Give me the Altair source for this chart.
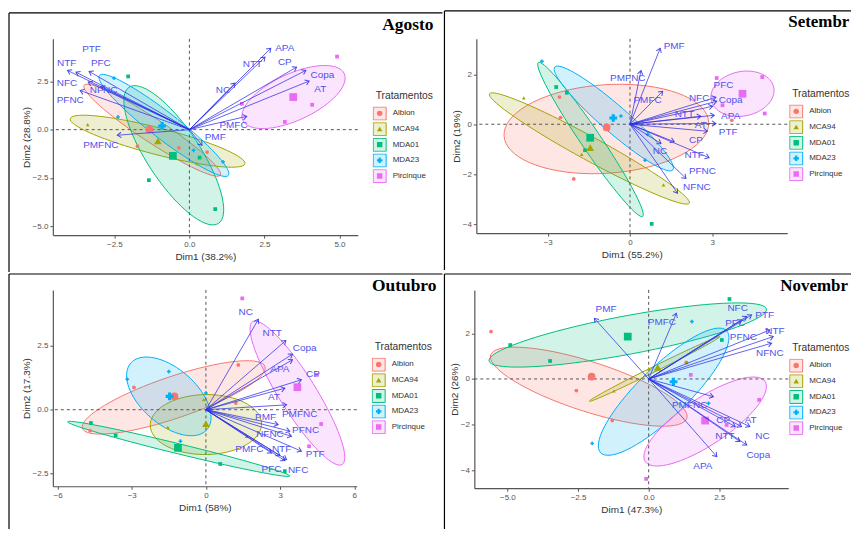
import math
import pandas as pd
import altair as alt

FONT = "Liberation Sans"
ARROW = "#2f2fe6"
LABEL = "#5151ee"

TREAT = ["Albion", "MCA94", "MDA01", "MDA23", "Pircinque"]
COLORS = ["#F8766D", "#A3A500", "#00BF7D", "#00B0F6", "#E76BF3"]
FILLS = ["rgba(248,118,109,0.18)", "rgba(163,165,0,0.18)", "rgba(0,191,125,0.18)",
         "rgba(0,176,246,0.18)", "rgba(231,107,243,0.18)"]
SHAPES = ["circle", "triangle-up", "square", "cross", "square"]

# ---------------- Agosto
AGO_VARS = ["NTF", "PTF", "PFC", "NFC", "NFNC", "PFNC", "PMFNC", "PMF", "PMFC", "NC", "NTT", "APA", "CP", "Copa", "AT"]
AGO_VX = [-4.06, -3.78, -3.34, -3.37, -2.95, -3.64, -2.40, 0.42, 1.91, 1.52, 2.52, 2.71, 3.57, 3.88, 3.99]
AGO_VY = [3.07, 2.98, 3.02, 2.47, 2.24, 2.03, -0.29, -0.81, 0.69, 2.41, 3.76, 4.22, 3.24, 3.07, 2.52]
AGO_LX = [-4.09, -3.26, -2.95, -4.08, -2.86, -3.97, -2.95, 0.86, 1.47, 1.12, 2.10, 3.18, 3.18, 4.43, 4.36]
AGO_LY = [3.45, 4.19, 3.45, 2.41, 2.03, 1.55, -0.78, -0.38, 0.22, 2.03, 3.41, 4.24, 3.50, 2.84, 2.09]
AGO_PT_TRT = ["Albion"] * 3 + ["MCA94"] * 2 + ["MDA01"] * 4 + ["MDA23"] * 4 + ["Pircinque"] * 4
AGO_PT_X = [-1.73, -0.35, 0.59, -3.39, 0.25, -2.04, -1.35, 0.34, 0.86, -2.51, -2.38, 0.14, 1.12, 4.92, 4.09, 3.18, 1.75]
AGO_PT_Y = [-0.86, -0.95, -1.16, 0.26, -1.76, 2.76, -2.62, -1.45, -4.12, 2.67, 0.66, -1.07, -1.67, 3.79, 1.29, 0.40, 1.34]
AGO_CEN_X = [-1.33, -1.05, -0.55, -0.91, 3.46]
AGO_CEN_Y = [0.00, -0.59, -1.36, 0.19, 1.69]
AGO_ELL_CX = [-1.24, -1.06, -0.52, -0.85, 3.47]
AGO_ELL_CY = [-0.03, -0.60, -1.33, 0.22, 1.69]
AGO_ELL_UX = [2.27, 2.91, 1.49, 2.15, 1.69]
AGO_ELL_UY = [-2.33, -1.17, -3.53, -2.59, 1.21]
AGO_ELL_VX = [-0.21, -0.11, -0.74, -0.27, 0.32]
AGO_ELL_VY = [-0.52, -0.67, -0.76, -0.55, -1.10]

# ---------------- Setembro
SET_VARS = ["PMF", "PMFNC", "PMFC", "NFC", "PFC", "Copa", "APA", "NTT", "AT", "PTF", "CP", "NC", "NTF", "PFNC", "NFNC"]
SET_VX = [1.10, 0.40, 1.19, 3.13, 3.16, 3.01, 3.07, 2.58, 3.13, 2.82, 1.61, 1.13, 2.88, 2.04, 1.73]
SET_VY = [3.04, 2.15, 1.32, 1.08, 0.92, 0.72, 0.36, 0.32, 0.03, -0.28, -0.70, -0.77, -1.34, -2.17, -2.76]
SET_LX = [1.61, -0.08, 0.64, 2.52, 3.41, 3.67, 3.67, 1.98, 2.58, 3.58, 2.40, 1.09, 2.34, 2.64, 2.44]
SET_LY = [3.15, 1.85, 0.96, 1.05, 1.58, 0.96, 0.33, 0.39, -0.04, -0.31, -0.64, -1.08, -1.24, -1.87, -2.52]
SET_PT_TRT = ["Albion"] * 4 + ["MCA94"] * 3 + ["MDA01"] * 4 + ["MDA23"] * 4 + ["Pircinque"] * 4
SET_PT_X = [-2.57, -2.53, -2.05, 3.71, -3.87, -1.76, 1.22, -2.69, -2.30, -1.64, 0.79, -3.21, -0.33, 0.55, 0.64, 3.16, 4.82, 4.91, 3.37]
SET_PT_Y = [1.09, 0.27, -2.19, 0.16, 1.06, -1.21, -2.43, 1.49, 1.26, -1.04, -3.99, 2.52, 0.33, -1.44, -0.41, 1.85, 1.89, 0.43, 0.76]
SET_CEN_X = [-0.85, -1.45, -1.45, -0.61, 4.10]
SET_CEN_Y = [-0.13, -0.94, -0.54, 0.25, 1.22]
SET_ELL_CX = [-0.86, -1.48, -1.44, -0.59, 4.10]
SET_ELL_CY = [-0.19, -0.97, -0.61, 0.23, 1.22]
SET_ELL_UX = [3.73, 3.64, 1.90, 2.15, 1.15]
SET_ELL_UY = [0.27, -2.19, -3.08, -2.06, 0.13]
SET_ELL_VX = [0.08, -0.21, -0.30, -0.32, 0.00]
SET_ELL_VY = [-1.77, -0.41, -0.23, -0.40, -0.90]

# ---------------- Outubro
OUT_VARS = ["NC", "NTT", "Copa", "APA", "CP", "AT", "PMFNC", "PMF", "NFNC", "PFNC", "PTF", "NTF", "PMFC", "NFC", "PFC"]
OUT_VX = [2.12, 3.23, 3.50, 3.50, 3.86, 3.19, 3.26, 2.92, 3.39, 3.46, 3.86, 3.26, 2.99, 3.19, 2.65]
OUT_VY = [3.53, 2.70, 2.17, 1.95, 1.17, 0.84, 0.19, -0.58, -0.84, -1.04, -1.62, -1.95, -1.79, -1.99, -1.69]
OUT_LX = [1.61, 2.68, 3.99, 2.99, 4.33, 2.75, 3.79, 2.41, 2.59, 4.03, 4.42, 3.06, 1.76, 3.73, 2.65]
OUT_LY = [3.81, 2.99, 2.43, 1.60, 1.39, 0.48, -0.17, -0.29, -0.95, -0.78, -1.73, -1.53, -1.53, -2.34, -2.30]
OUT_PT_TRT = ["Albion"] * 4 + ["MCA94"] * 3 + ["MDA01"] * 4 + ["MDA23"] * 4 + ["Pircinque"] * 4
OUT_PT_X = [-2.91, 1.31, -4.68, 1.21, -0.09, -1.54, 1.65, -4.65, -3.65, 0.58, 3.19, -3.18, -1.50, -1.03, 0.00, 1.47, 4.49, 4.66, 4.17]
OUT_PT_Y = [0.87, 1.75, -0.82, 0.26, 0.39, -0.69, -1.04, -0.52, -1.00, -2.12, -2.40, 1.19, 1.49, -1.23, 0.65, 4.35, 1.36, -0.56, -1.43]
OUT_CEN_X = [-1.27, 0.00, -1.13, -1.47, 3.70]
OUT_CEN_Y = [0.52, -0.55, -1.49, 0.52, 0.88]
OUT_ELL_CX = [-1.30, 0.00, -1.10, -1.50, 3.70]
OUT_ELL_CY = [0.48, -0.58, -1.53, 0.52, 0.65]
OUT_ELL_UX = [3.69, 2.25, 4.49, 1.54, 1.81]
OUT_ELL_UY = [1.21, 0.06, -1.06, -1.30, -2.79]
OUT_ELL_VX = [0.27, 0.07, -0.05, -0.74, -0.63]
OUT_ELL_VY = [-0.77, -1.17, -0.19, -0.82, -0.38]

# ---------------- Novembro
NOV_VARS = ["PMF", "PMFC", "NFC", "PTF", "PFC", "NTF", "PFNC", "NFNC", "PMFNC", "CP", "AT", "NTT", "NC", "Copa", "APA"]
NOV_VX = [-1.92, 0.98, 3.47, 3.64, 3.29, 4.29, 4.41, 4.35, 2.29, 3.06, 3.58, 3.23, 3.29, 3.47, 2.41]
NOV_VY = [2.66, 2.88, 2.74, 2.81, 2.59, 2.15, 1.86, 1.57, -0.78, -2.09, -2.09, -2.75, -2.09, -2.90, -3.41]
NOV_LX = [-1.51, 0.47, 3.15, 4.11, 3.06, 4.47, 3.35, 4.29, 1.45, 2.64, 3.61, 2.70, 4.03, 3.88, 1.92]
NOV_LY = [3.07, 2.52, 3.13, 2.81, 2.45, 2.11, 1.83, 1.13, -1.14, -1.80, -1.80, -2.49, -2.49, -3.34, -3.81]
NOV_PT_TRT = ["Albion"] * 4 + ["MCA94"] * 3 + ["MDA01"] * 4 + ["MDA23"] * 3 + ["Pircinque"] * 4
NOV_PT_X = [-5.58, -2.56, -1.29, 1.33, -1.23, 0.00, 1.35, -4.90, -3.49, 2.86, 2.59, 1.53, -2.00, 2.12, 1.49, 3.91, -0.09, 2.76]
NOV_PT_Y = [2.08, -0.51, -1.83, 0.73, -0.53, 0.44, 0.72, 1.49, 0.79, 3.51, 1.71, 2.52, -2.83, -1.07, 0.18, -0.92, -4.39, -2.02]
NOV_CEN_X = [-2.02, 0.32, -0.74, 0.88, 2.00]
NOV_CEN_Y = [0.10, 0.51, 1.86, -0.12, -1.83]
NOV_ELL_CX = [-2.12, 0.21, -0.74, 0.53, 2.00]
NOV_ELL_CY = [-0.34, 0.44, 1.93, -0.56, -1.87]
NOV_ELL_UX = [3.47, 2.31, 4.91, 2.23, 2.12]
NOV_ELL_UY = [-1.39, 1.42, 1.14, 2.68, 1.76]
NOV_ELL_VX = [-0.27, 0.05, 0.13, 0.61, 0.46]
NOV_ELL_VY = [-1.04, -0.10, -0.83, -0.79, -0.85]

PANELS = [
    dict(name="Agosto", W=306, H=197, xdom=[-4.55, 5.61], ydom=[-5.47, 4.71],
         xticks=[-2.5, 0, 2.5, 5], yticks=[-5, -2.5, 0, 2.5], xfmt=".1f", yfmt=".1f",
         xtitle="Dim1 (38.2%)", ytitle="Dim2 (28.8%)",
         vars=AGO_VARS, vx=AGO_VX, vy=AGO_VY, lx=AGO_LX, ly=AGO_LY,
         ptt=AGO_PT_TRT, ptx=AGO_PT_X, pty=AGO_PT_Y, cx=AGO_CEN_X, cy=AGO_CEN_Y,
         ell=(AGO_ELL_CX, AGO_ELL_CY, AGO_ELL_UX, AGO_ELL_UY, AGO_ELL_VX, AGO_ELL_VY),
         frame=(-44, -26, 391, 234), tpos=(382, -9), talign="right", tsize=17.5, limit=0, leg=(321, 75)),
    dict(name="Setembro", W=312, H=195, xdom=[-5.6, 5.73], ydom=[-4.36, 3.42],
         xticks=[-3, 0, 3], yticks=[-4, -2, 0, 2], xfmt="d", yfmt="d",
         xtitle="Dim1 (55.2%)", ytitle="Dim2 (19%)",
         vars=SET_VARS, vx=SET_VX, vy=SET_VY, lx=SET_LX, ly=SET_LY,
         ptt=SET_PT_TRT, ptx=SET_PT_X, pty=SET_PT_Y, cx=SET_CEN_X, cy=SET_CEN_Y,
         ell=(SET_ELL_CX, SET_ELL_CY, SET_ELL_UX, SET_ELL_UY, SET_ELL_VX, SET_ELL_VY),
         frame=(-32, -28, 376, 232), tpos=(313, -12), talign="left", tsize=17, limit=62.5, leg=(314, 73)),
    dict(name="Outubro", W=305, H=197, xdom=[-6.19, 6.10], ydom=[-2.99, 4.68],
         xticks=[-6, -3, 0, 3, 6], yticks=[-2.5, 0, 2.5], xfmt="d", yfmt=".1f",
         xtitle="Dim1 (58%)", ytitle="Dim2 (17.3%)",
         vars=OUT_VARS, vx=OUT_VX, vy=OUT_VY, lx=OUT_LX, ly=OUT_LY,
         ptt=OUT_PT_TRT, ptx=OUT_PT_X, pty=OUT_PT_Y, cx=OUT_CEN_X, cy=OUT_CEN_Y,
         ell=(OUT_ELL_CX, OUT_ELL_CY, OUT_ELL_UX, OUT_ELL_UY, OUT_ELL_VX, OUT_ELL_VY),
         frame=(-44, -16, 391, 240), tpos=(385, 1), talign="right", tsize=17.5, limit=0, leg=(320, 75)),
    dict(name="Novembro", W=315, H=199, xdom=[-6.17, 4.94], ydom=[-4.80, 3.91],
         xticks=[-5, -2.5, 0, 2.5], yticks=[-4, -2, 0, 2], xfmt=".1f", yfmt="d",
         xtitle="Dim1 (47.3%)", ytitle="Dim2 (26%)",
         vars=NOV_VARS, vx=NOV_VX, vy=NOV_VY, lx=NOV_LX, ly=NOV_LY,
         ptt=NOV_PT_TRT, ptx=NOV_PT_X, pty=NOV_PT_Y, cx=NOV_CEN_X, cy=NOV_CEN_Y,
         ell=(NOV_ELL_CX, NOV_ELL_CY, NOV_ELL_UX, NOV_ELL_UY, NOV_ELL_VX, NOV_ELL_VY),
         frame=(-30, -16, 378, 240), tpos=(307, 1), talign="left", tsize=17, limit=69, leg=(316, 76)),
]


def ellipse_df(cx, cy, ux, uy, vx, vy, n=72):
    rows = []
    for k, trt in enumerate(TREAT):
        for i in range(n):
            t = 2 * math.pi * i / n
            rows.append({"x": cx[k] + ux[k] * math.cos(t) + vx[k] * math.sin(t),
                         "y": cy[k] + uy[k] * math.cos(t) + vy[k] * math.sin(t),
                         "grp": trt + " ", "i": i})
    return pd.DataFrame(rows)


def panel(p):
    W, H = p["W"], p["H"]
    kx = W / (p["xdom"][1] - p["xdom"][0])
    ky = H / (p["ydom"][1] - p["ydom"][0])
    xs = alt.Scale(domain=p["xdom"], nice=False, zero=False)
    ys = alt.Scale(domain=p["ydom"], nice=False, zero=False)
    ax = alt.Axis(values=p["xticks"], format=p["xfmt"], title=p["xtitle"])
    ay = alt.Axis(values=p["yticks"], format=p["yfmt"], title=p["ytitle"], titlePadding=1)

    def X(f):
        return alt.X(f"{f}:Q", scale=xs, axis=ax, title=p["xtitle"])

    def Y(f):
        return alt.Y(f"{f}:Q", scale=ys, axis=ay, title=p["ytitle"])

    bx, by = p["leg"]
    legP = alt.Legend(title="Tratamentos", orient="none", legendX=bx + 3, legendY=by - 7 - 16,
                      titleFont=FONT, titleFontSize=10.3, titleFontWeight="normal", titleColor="#333",
                      titlePadding=5.5, labelFont=FONT, labelFontSize=8, labelColor="#333",
                      symbolSize=30, symbolStrokeWidth=0, clipHeight=14, rowPadding=1.7,
                      labelOffset=9, padding=0, zindex=2)
    legE = alt.Legend(title=None, orient="none", legendX=bx, legendY=by - 7,
                      symbolType="square", symbolSize=169, symbolStrokeWidth=1,
                      labelExpr="''", labelFontSize=8, clipHeight=14, rowPadding=1.7,
                      padding=0, zindex=1)
    TE = [t + " " for t in TREAT]

    edf = ellipse_df(*p["ell"])
    ell = alt.Chart(edf).mark_line(interpolate="linear-closed", strokeWidth=1).encode(
        x=X("x"), y=Y("y"),
        fill=alt.Fill("grp:N", scale=alt.Scale(domain=TE, range=FILLS), legend=legE),
        stroke=alt.Stroke("grp:N", scale=alt.Scale(domain=TE, range=COLORS), legend=legE),
        order=alt.Order("i:Q"))

    zdf = pd.DataFrame({"x": [0.0], "y": [0.0]})
    zx = alt.Chart(zdf).mark_rule(color="#555", strokeDash=[3, 3], strokeWidth=1).encode(x=X("x"))
    zy = alt.Chart(zdf).mark_rule(color="#555", strokeDash=[3, 3], strokeWidth=1).encode(y=Y("y"))

    pdf = pd.DataFrame({"trt": list(p["ptt"]) + TREAT,
                        "x": list(p["ptx"]) + list(p["cx"]),
                        "y": list(p["pty"]) + list(p["cy"]),
                        "s": [14] * len(p["ptt"]) + [60] * 5})
    pts = alt.Chart(pdf).mark_point(filled=True, opacity=1).encode(
        x=X("x"), y=Y("y"),
        color=alt.Color("trt:N", scale=alt.Scale(domain=TREAT, range=COLORS), legend=legP),
        shape=alt.Shape("trt:N", scale=alt.Scale(domain=TREAT, range=SHAPES), legend=legP),
        size=alt.Size("s:Q", scale=None))

    angs = [math.degrees(math.atan2(a * kx, b * ky)) % 360 for a, b in zip(p["vx"], p["vy"])]
    adf = pd.DataFrame({"var": p["vars"], "x": p["vx"], "y": p["vy"],
                        "x0": [0.0] * len(p["vars"]), "y0": [0.0] * len(p["vars"]),
                        "lx": p["lx"], "ly": p["ly"], "ang": angs})
    arr = alt.Chart(adf).mark_rule(color=ARROW, strokeWidth=1, opacity=0.75).encode(
        x=X("x0"), y=Y("y0"), x2=alt.X2("x"), y2=alt.Y2("y"))
    heads = alt.Chart(adf).mark_point(filled=False, color=ARROW, strokeWidth=1, opacity=0.85,
                                      shape="M-0.7,1L0,0L0.7,1", size=60).encode(
        x=X("x"), y=Y("y"), angle=alt.Angle("ang:Q", scale=None))
    txt = alt.Chart(adf).mark_text(color=LABEL, fontSize=10, font=FONT).encode(
        x=X("lx"), y=Y("ly"), text="var:N")

    L, T, R, B = p["frame"]
    one = pd.DataFrame({"k": [0]})
    top = alt.Chart(one).mark_rule(color="black", strokeWidth=1.2).encode(
        x=alt.value(L), x2=alt.value(R), y=alt.value(T))
    left = alt.Chart(one).mark_rule(color="black", strokeWidth=1.2).encode(
        x=alt.value(L), y=alt.value(T), y2=alt.value(B))
    tkw = dict(font="Liberation Serif", fontSize=p["tsize"], fontWeight="bold", color="black",
               align=p["talign"], baseline="alphabetic")
    if p["limit"]:
        tkw["limit"] = p["limit"]
        tkw["ellipsis"] = "\u200b"
    ttl = alt.Chart(one).mark_text(**tkw).encode(
        x=alt.value(p["tpos"][0]), y=alt.value(p["tpos"][1]), text=alt.value(p["name"]))

    return alt.layer(ell, zx, zy, pts, arr, heads, txt, top, left, ttl).properties(width=W, height=H)


IND = dict(color="independent", shape="independent", fill="independent", stroke="independent")

P = [panel(p) for p in PANELS]
row1 = alt.hconcat(P[0], P[1], spacing=0).resolve_scale(**IND).resolve_legend(**IND)
row2 = alt.hconcat(P[2], P[3], spacing=0).resolve_scale(**IND).resolve_legend(**IND)
chart = alt.vconcat(row1, row2, spacing=0).resolve_scale(**IND).resolve_legend(**IND).properties(
    padding={"left": 0, "top": 1, "right": 0, "bottom": 0}
).configure_view(strokeWidth=0).configure_axis(
    grid=False, domainColor="#555", domainWidth=1.2, tickColor="#555", tickSize=3,
    labelFont=FONT, labelFontSize=8, labelColor="#555", labelPadding=2,
    titleFont=FONT, titleFontSize=10, titleFontWeight="normal", titleColor="#333", titlePadding=3
)

chart.save("out.html", embed_options={"renderer": "svg", "actions": False})
